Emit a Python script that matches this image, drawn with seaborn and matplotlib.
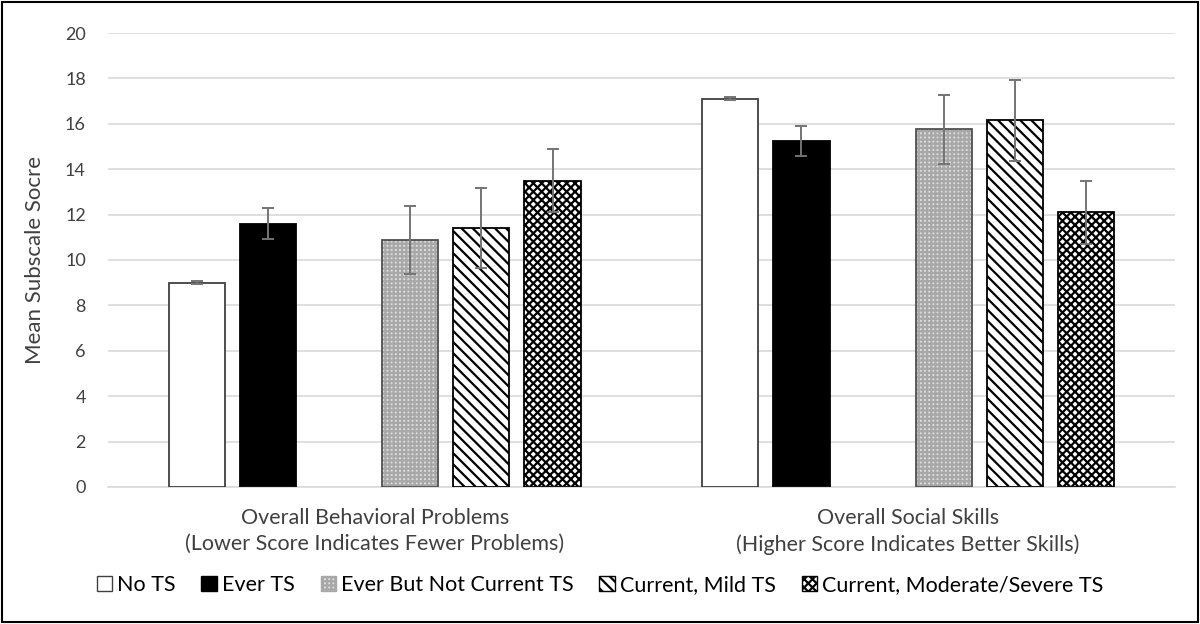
"""
Mean subscale scores (behavioral problems / social skills) by TS status.
Grouped bar chart with error bars, Excel-style hatched fills.
"""

import matplotlib
matplotlib.use("Agg")
import matplotlib.pyplot as plt
import matplotlib.patches as mpatches
import pandas as pd
import seaborn as sns

# ---- data ----
subscales = ["Overall Behavioral Problems\n(Lower Score Indicates Fewer Problems)",
             "Overall Social Skills\n(Higher Score Indicates Better Skills)"]
ts_status = ["No TS", "Ever TS", "Ever But Not Current TS",
             "Current, Mild TS", "Current, Moderate/Severe TS"]
behavior_means = [9.0, 11.6, 10.9, 11.4, 13.5]
behavior_err = [0.06, 0.68, 1.5, 1.75, 1.4]
social_means = [17.1, 15.25, 15.75, 16.15, 12.1]
social_err = [0.06, 0.66, 1.5, 1.8, 1.4]

# Excel leaves an empty series slot between "Ever TS" and the rest
hue_order = ts_status[:2] + [" "] + ts_status[2:]

TEXT = "#404040"
GRID = "#d9d9d9"

# edgecolor doubles as hatch colour; outline drawn separately
STYLES = {
    "No TS": dict(facecolor="white", edgecolor="#404040", hatch=None, outline="#404040"),
    "Ever TS": dict(facecolor="black", edgecolor="black", hatch=None, outline="black"),
    "Ever But Not Current TS": dict(facecolor="#dcdcdc", edgecolor="#a8a8a8", hatch="++++", outline="#505050"),
    "Current, Mild TS": dict(facecolor="white", edgecolor="black", hatch="\\\\\\", outline="black"),
    "Current, Moderate/Severe TS": dict(facecolor="white", edgecolor="black", hatch="xxxx", outline="black"),
}


def build_frame():
    rows = []
    for i, s in enumerate(ts_status):
        rows.append({"subscale": subscales[0], "status": s,
                     "mean": behavior_means[i], "err": behavior_err[i]})
        rows.append({"subscale": subscales[1], "status": s,
                     "mean": social_means[i], "err": social_err[i]})
    return pd.DataFrame(rows)


def main():
    sns.set_style("white")
    plt.rcParams["font.family"] = ["Lato", "DejaVu Sans"]
    plt.rcParams["hatch.linewidth"] = 1.6

    df = build_frame()
    fig = plt.figure(figsize=(12, 6.24), dpi=100)
    ax = fig.add_axes([0.09, 0.2196, 0.889, 0.7275])

    group_width = 0.8
    sns.barplot(data=df, x="subscale", y="mean", hue="status",
                order=subscales, hue_order=hue_order,
                width=group_width, gap=0.21, errorbar=None, ax=ax, legend=False)

    # identify each bar by its dodge slot, then style it and add its error bar
    slot_w = group_width / len(hue_order)
    for bar in list(ax.patches):
        xc = bar.get_x() + bar.get_width() / 2
        g = int(round(xc))
        slot = int(round((xc - g + group_width / 2) / slot_w - 0.5))
        label = hue_order[slot]
        if label not in STYLES:
            continue
        st = STYLES[label]
        k = ts_status.index(label)
        bar.set_facecolor(st["facecolor"])
        bar.set_edgecolor(st["edgecolor"])
        bar.set_linewidth(0)
        if st["hatch"]:
            bar.set_hatch(st["hatch"])
        ax.add_patch(mpatches.Rectangle((bar.get_x(), bar.get_y()), bar.get_width(), bar.get_height(),
                                        fill=False, edgecolor=st["outline"], linewidth=1.3, zorder=4))
        err = behavior_err[k] if g == 0 else social_err[k]
        ax.errorbar(xc, bar.get_height(), yerr=err, fmt="none",
                    ecolor="#747474", elinewidth=1.4, capsize=4, capthick=1.4, zorder=5)

    ax.set_ylim(0, 20)
    ax.set_xlim(-0.5, 1.5)
    ax.set_yticks(range(0, 21, 2))
    ax.yaxis.grid(True, color=GRID, linewidth=1.2)
    ax.set_axisbelow(True)
    for side in ["top", "right", "left"]:
        ax.spines[side].set_visible(False)
    ax.spines["bottom"].set_color(GRID)
    ax.spines["bottom"].set_linewidth(1.2)

    ax.set_xlabel("")
    ax.set_ylabel("Mean Subscale Socre", fontsize=16, color=TEXT, labelpad=14)
    ax.tick_params(axis="y", length=0, labelsize=13, labelcolor=TEXT, pad=16)
    ax.tick_params(axis="x", length=0, labelsize=15.5, labelcolor=TEXT, pad=15)
    for t in ax.get_xticklabels():
        t.set_linespacing(1.4)

    handles = []
    for s in ts_status:
        st = STYLES[s]
        handles.append(mpatches.Patch(facecolor=st["facecolor"], edgecolor=st["edgecolor"],
                                      hatch=st["hatch"], linewidth=1.0, label=s))
    leg = fig.legend(handles=handles, loc="center", bbox_to_anchor=(0.5, 0.0625), ncol=5,
                     frameon=False, fontsize=15.5, labelcolor="black", handlelength=0.7,
                     handleheight=0.7, handletextpad=0.25, columnspacing=1.2)
    # give the light-gray swatch a dark border like the bars
    leg.legend_handles[2].set_edgecolor("#a8a8a8")

    fig.patches.append(mpatches.Rectangle((0.002, 0.003), 0.996, 0.994, transform=fig.transFigure,
                                          fill=False, edgecolor="black", linewidth=1.5))

    fig.savefig("out.png", dpi=100)


if __name__ == "__main__":
    main()
